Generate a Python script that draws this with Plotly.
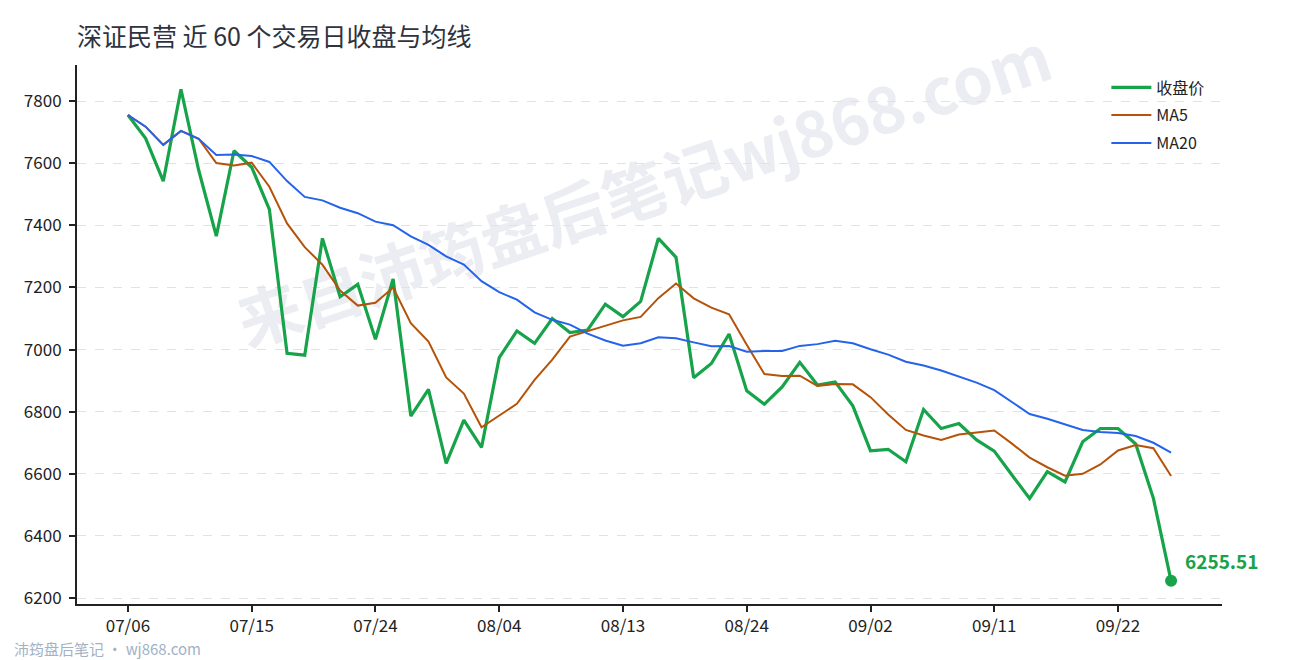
import plotly.graph_objects as go

# 交易日 (2020)
dates = ["07/06", "07/07", "07/08", "07/09", "07/10", "07/13", "07/14", "07/15", "07/16", "07/17",
         "07/20", "07/21", "07/22", "07/23", "07/24", "07/27", "07/28", "07/29", "07/30", "07/31",
         "08/03", "08/04", "08/05", "08/06", "08/07", "08/10", "08/11", "08/12", "08/13", "08/14",
         "08/17", "08/18", "08/19", "08/20", "08/21", "08/24", "08/25", "08/26", "08/27", "08/28",
         "08/31", "09/01", "09/02", "09/03", "09/04", "09/07", "09/08", "09/09", "09/10", "09/11",
         "09/14", "09/15", "09/16", "09/17", "09/18", "09/21", "09/22", "09/23", "09/24", "09/25"]

close = [7755, 7680, 7542, 7838, 7578, 7365, 7640, 7587, 7451, 6988,
         6982, 7358, 7170, 7210, 7033, 7227, 6786, 6872, 6634, 6773,
         6685, 6974, 7060, 7020, 7100, 7055, 7063, 7146, 7106, 7155,
         7358, 7297, 6909, 6955, 7050, 6867, 6824, 6880, 6959, 6886,
         6896, 6819, 6674, 6679, 6639, 6807, 6746, 6762, 6709, 6673,
         6596, 6521, 6607, 6574, 6703, 6746, 6746, 6696, 6521, 6255.51]

ma5 = [7755.0, 7717.5, 7659.0, 7703.8, 7678.6, 7600.6, 7592.6, 7601.6, 7524.2, 7406.2,
       7329.6, 7273.2, 7189.8, 7141.6, 7150.6, 7199.6, 7085.2, 7025.6, 6910.4, 6858.4,
       6750.0, 6787.6, 6825.2, 6902.4, 6967.8, 7041.8, 7059.6, 7076.8, 7094.0, 7105.0,
       7165.6, 7212.4, 7165.0, 7134.8, 7113.8, 7015.6, 6921.0, 6915.2, 6916.0, 6883.2,
       6889.0, 6888.0, 6846.8, 6790.8, 6741.4, 6723.6, 6709.0, 6726.6, 6732.6, 6739.4,
       6697.2, 6652.2, 6621.2, 6594.2, 6600.2, 6630.2, 6675.2, 6693.0, 6682.4, 6592.9]

ma20 = [7755.0, 7717.5, 7659.0, 7703.8, 7678.6, 7626.3, 7628.3, 7623.1, 7604.0, 7542.4,
        7491.5, 7480.3, 7456.5, 7438.9, 7411.8, 7400.3, 7364.1, 7336.8, 7299.8, 7273.5,
        7220.0, 7184.7, 7160.6, 7119.7, 7095.8, 7080.3, 7051.4, 7029.4, 7012.1, 7020.5,
        7039.3, 7036.2, 7023.2, 7010.4, 7011.3, 6993.3, 6995.2, 6995.6, 7011.8, 7017.5,
        7028.0, 7020.3, 7001.0, 6983.9, 6960.9, 6948.5, 6932.6, 6913.4, 6893.6, 6869.5,
        6831.4, 6792.6, 6777.5, 6758.4, 6741.1, 6735.0, 6731.1, 6721.9, 6700.0, 6668.5]

tick_dates = ["07/06", "07/15", "07/24", "08/04", "08/13", "08/24", "09/02", "09/11", "09/22"]
y_ticks = [6200, 6400, 6600, 6800, 7000, 7200, 7400, 7600, 7800]

GREEN = "#16a34a"
ORANGE = "#b45309"
BLUE = "#2563eb"
FONT = "Noto Sans CJK SC, Noto Sans, sans-serif"

fig = go.Figure()
fig.add_trace(go.Scatter(x=dates, y=close, mode="lines", name="收盘价", legendgroup="c",
                         line=dict(color=GREEN, width=3.2)))
fig.add_trace(go.Scatter(x=dates, y=ma5, mode="lines", name="MA5", legendgroup="m5",
                         line=dict(color=ORANGE, width=2)))
fig.add_trace(go.Scatter(x=dates, y=ma20, mode="lines", name="MA20", legendgroup="m20",
                         line=dict(color=BLUE, width=2)))
# last close marker
fig.add_trace(go.Scatter(x=[dates[-1]], y=[close[-1]], mode="markers", showlegend=False,
                         marker=dict(color=GREEN, size=12)))

fig.add_annotation(x=dates[-1], y=close[-1], text="<b>%.2f</b>" % close[-1],
                   showarrow=False, xanchor="left", yanchor="middle",
                   xshift=12, yshift=20, font=dict(family=FONT, size=19, color=GREEN))

# watermark (below the lines)
fig.add_shape(type="rect", xref="paper", yref="paper",
              x0=0.487, x1=0.507, y0=0.748, y1=0.768,
              line=dict(width=0), fillcolor="rgba(0,0,0,0)", layer="below",
              label=dict(text="来自沛筠盘后笔记wj868.com", textangle=-18.5,
                         textposition="middle center",
                         font=dict(family=FONT, size=64, color="#ebedf2", weight="bold")))

fig.add_annotation(text="沛筠盘后笔记 · wj868.com", xref="paper", yref="paper",
                   x=-0.057, y=-0.082, xanchor="left", yanchor="middle", showarrow=False,
                   font=dict(family=FONT, size=15, color="#a3b1c6"))

fig.update_layout(
    width=1290, height=660,
    margin=dict(l=77, r=68, t=65, b=56),
    paper_bgcolor="white", plot_bgcolor="white",
    font=dict(family=FONT, size=16, color="#222"),
    title=dict(text="深证民营 近 60 个交易日收盘与均线", x=77 / 1290, xanchor="left",
               y=1 - 37 / 660, yanchor="middle",
               font=dict(family=FONT, size=25, color="#2d3340")),
    legend=dict(x=0.899, y=0.99, xanchor="left", yanchor="top", tracegroupgap=4,
                itemwidth=40,
                bgcolor="rgba(0,0,0,0)", font=dict(family=FONT, size=16, color="#222")),
    showlegend=True,
)
fig.update_xaxes(type="category", range=[-2.88, 61.88], tickmode="array", tickvals=tick_dates,
                 showgrid=False, showline=True, linecolor="#222", linewidth=2,
                 ticks="outside", ticklen=6, tickwidth=1.5, tickcolor="#222",
                 tickfont=dict(size=17, color="#222"), zeroline=False)
fig.update_yaxes(range=[6181, 7916], tickvals=y_ticks,
                 showgrid=True, gridcolor="#e2e2e2", griddash="dash", gridwidth=1,
                 showline=True, linecolor="#222", linewidth=2,
                 ticks="outside", ticklen=6, tickwidth=1.5, tickcolor="#222",
                 ticklabelstandoff=4,
                 tickfont=dict(size=17, color="#222"), zeroline=False)

fig.write_html("out.html", config={"displayModeBar": False},
               post_script="document.body.style.margin='0';")
